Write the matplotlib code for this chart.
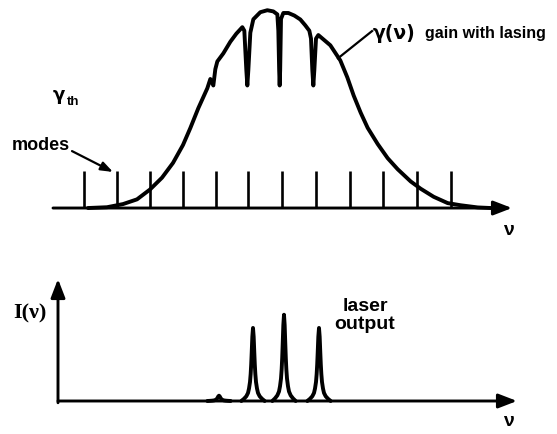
'''
    Gain saturation with lasing: gain curve with burned holes and laser output spectrum
'''

# - Imports

import matplotlib
matplotlib.use("Agg")
import matplotlib.pyplot as plt

# - Data

# Longitudinal mode frequencies (arb. units)
mode_freqs = [1.0, 1.99, 2.98, 3.98, 4.97, 5.93, 6.95, 7.95, 8.97, 9.96, 10.98, 12.0]
mode_height = 0.19

# Gain curve gamma(nu) with lasing, holes burned at the lasing modes
gain_nu = [1.12, 1.69, 2.17, 2.59, 2.98, 3.34, 3.67, 3.97, 4.19, 4.43, 4.70,
           4.79, 4.88, 4.94, 5.00, 5.18, 5.39, 5.57, 5.75,
           5.81, 5.87, 5.90, 5.93, 5.99,
           6.08, 6.29, 6.50, 6.68, 6.80,
           6.83, 6.855, 6.87, 6.885, 6.91,
           6.98, 7.13, 7.31, 7.49, 7.64, 7.76,
           7.81, 7.85, 7.88, 7.91, 7.96,
           8.03, 8.39, 8.69, 8.90, 9.09, 9.30, 9.51, 9.81, 10.11, 10.41, 10.80,
           11.10, 11.49, 11.91, 12.30, 12.81, 13.20]
gain_val = [0.0, 0.004, 0.020, 0.044, 0.094, 0.154, 0.229, 0.320, 0.406, 0.507, 0.608,
            0.655, 0.622, 0.705, 0.744, 0.785, 0.844, 0.885, 0.918,
            0.90, 0.70, 0.622, 0.70, 0.89,
            0.958, 0.994, 1.004, 0.998, 0.983,
            0.90, 0.70, 0.622, 0.70, 0.96,
            0.99, 0.99, 0.977, 0.957, 0.927, 0.90,
            0.86, 0.70, 0.622, 0.70, 0.86,
            0.878, 0.826, 0.749, 0.663, 0.571, 0.484, 0.407, 0.325, 0.253, 0.197, 0.135,
            0.098, 0.057, 0.025, 0.014, 0.003, 0.0]

# Laser output lines
line_freqs = [5.05, 6.07, 7.0, 8.05]
line_heights = [0.06, 0.83, 0.98, 0.83]

# Line shape of one output line (offset from centre, relative height)
shape_offset = [-0.35, -0.27, -0.20, -0.15, -0.12, -0.09, -0.07, -0.054, -0.04, -0.02, 0.0,
                0.02, 0.04, 0.054, 0.07, 0.09, 0.12, 0.15, 0.20, 0.27, 0.35]
shape_rel = [0.0, 0.03, 0.065, 0.11, 0.17, 0.26, 0.37, 0.50, 0.65, 0.88, 1.0,
             0.88, 0.65, 0.50, 0.37, 0.26, 0.17, 0.11, 0.065, 0.03, 0.0]

# - Plot

fig = plt.figure(figsize=(5.57, 4.35), dpi=100)
fig.patch.set_facecolor("white")

sans = "Liberation Sans"
serif = "Liberation Serif"
greek = "DejaVu Sans"
arrow_style = "-|>,head_length=0.7,head_width=0.27"

# Top panel: gain curve
ax1 = fig.add_axes([0, 1 - 250 / 435, 1, 250 / 435])
ax1.set_xlim(-1.52, 15.19)
ax1.set_ylim(-0.208, 1.061)
ax1.axis("off")

# Frequency axis with arrow
ax1.annotate("", xy=(13.84, 0), xytext=(0.07, 0),
             arrowprops=dict(arrowstyle=arrow_style, lw=2.1, color="k",
                             mutation_scale=16, shrinkA=0, shrinkB=0))

# Cavity modes
ax1.vlines(mode_freqs, 0, mode_height, color="k", lw=1.9)

# Gain curve
ax1.plot(gain_nu, gain_val, color="k", lw=2.8, solid_capstyle="round",
         solid_joinstyle="round")

# Labels
ax1.plot([8.62, 9.64], [0.76, 0.898], color="k", lw=1.6)
ax1.text(9.67, 0.893, "γ(ν)", fontsize=13.5, fontweight="bold", family=greek,
         ha="left", va="center")
ax1.text(11.23, 0.893, "gain with lasing", fontsize=11.5, fontweight="bold",
         family=sans, ha="left", va="center")
ax1.text(0.07, 0.58, "γ", fontsize=13, fontweight="bold", family=greek,
         ha="left", va="center")
ax1.text(0.50, 0.545, "th", fontsize=9.5, fontweight="bold", family=sans,
         ha="left", va="center")
ax1.text(-1.16, 0.32, "modes", fontsize=13, fontweight="bold", family=sans,
         ha="left", va="center")
ax1.annotate("", xy=(1.87, 0.183), xytext=(0.64, 0.289),
             arrowprops=dict(arrowstyle="-|>,head_length=0.6,head_width=0.22",
                             lw=1.6, color="k", mutation_scale=12,
                             shrinkA=0, shrinkB=0))
ax1.text(13.72, -0.107, "ν", fontsize=14, fontweight="bold", family=sans,
         ha="center", va="center")

# Bottom panel: laser output
ax2 = fig.add_axes([0, 0, 1, 185 / 435])
ax2.set_xlim(-1.52, 15.19)
ax2.set_ylim(-0.375, 1.727)
ax2.axis("off")

ax2.annotate("", xy=(13.99, 0), xytext=(0.22, 0),
             arrowprops=dict(arrowstyle=arrow_style, lw=2.1, color="k",
                             mutation_scale=16, shrinkA=0, shrinkB=0))
ax2.annotate("", xy=(0.22, 1.386), xytext=(0.22, -0.02),
             arrowprops=dict(arrowstyle=arrow_style, lw=2.1, color="k",
                             mutation_scale=16, shrinkA=0, shrinkB=0))

for freq, height in zip(line_freqs, line_heights):
    xs = [freq + off for off in shape_offset]
    ys = [height * rel for rel in shape_rel]
    ax2.plot(xs, ys, color="k", lw=2.8, solid_joinstyle="round",
             solid_capstyle="round")

ax2.text(-0.62, 1.01, "I(ν)", fontsize=16, fontweight="bold", family=serif,
         ha="center", va="center")
ax2.text(9.43, 0.98, "laser\noutput", fontsize=14, fontweight="bold",
         family=sans, ha="center", va="center", linespacing=1.1)
ax2.text(13.72, -0.227, "ν", fontsize=14, fontweight="bold", family=sans,
         ha="center", va="center")

fig.savefig("out.png", dpi=100, facecolor="white")
